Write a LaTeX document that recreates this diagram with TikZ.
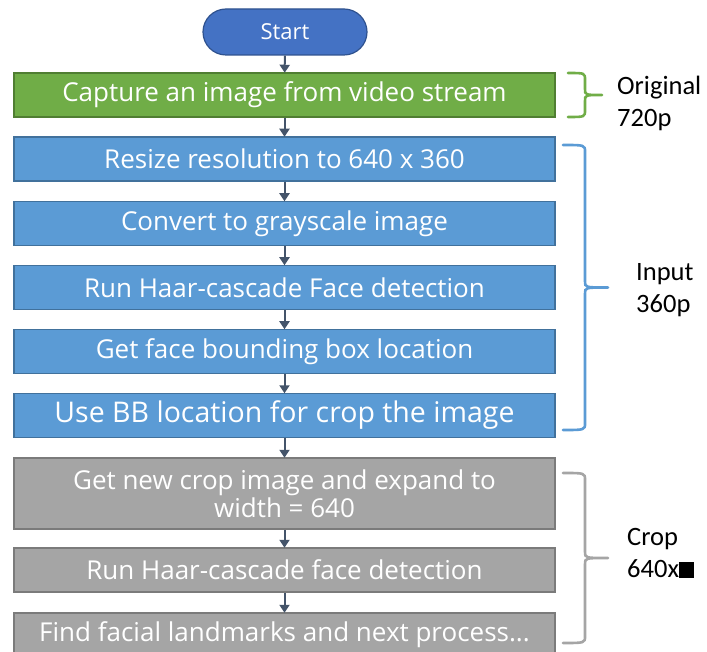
\documentclass[tikz,border=0pt]{standalone}
\usepackage{fontspec}
\setmainfont{Carlito}
\newfontfamily\boxfont{Open Sans}
\usetikzlibrary{arrows.meta}
\definecolor{startfill}{HTML}{4472C4}
\definecolor{startline}{HTML}{2F528F}
\definecolor{greenfill}{HTML}{70AD47}
\definecolor{greenline}{HTML}{507E32}
\definecolor{bluefill}{HTML}{5B9BD5}
\definecolor{blueline}{HTML}{41719C}
\definecolor{grayfill}{HTML}{A5A5A5}
\definecolor{grayline}{HTML}{7B7B7B}
\definecolor{arrowcol}{HTML}{44546A}
\tikzset{
  stepbox/.style={rectangle, line width=1.5pt, minimum width=541pt,
    minimum height=44pt, inner sep=0pt, text=white, align=center,
    font=\boxfont\fontsize{26}{28}\selectfont},
  greenbox/.style={stepbox, fill=greenfill, draw=greenline},
  bluebox/.style={stepbox, fill=bluefill, draw=blueline},
  graybox/.style={stepbox, fill=grayfill, draw=grayline},
  startbox/.style={rectangle, rounded corners=23pt, minimum width=164pt,
    minimum height=46pt, fill=startfill, draw=startline, line width=1.2pt,
    text=white, font=\boxfont\fontsize{22}{24}\selectfont},
  flow/.style={draw=arrowcol, line width=2pt,
    -{Triangle[length=8pt,width=10pt]}, shorten >=-0.5pt},
  brace/.style={line width=2.6pt, line cap=round},
  sidelabel/.style={anchor=west, align=left, inner sep=0pt,
    font=\fontsize{26.5}{32}\selectfont}
}
\newcommand{\bracepath}[6]{% colour, left x, spine x, tip x, top y, bottom y
  \draw[brace, #1] (#2,#5) .. controls (#3,#5) .. (#3,#5+7)
    -- (#3,{(#5+#6)/2-6}) .. controls (#3,{(#5+#6)/2}) .. (#4,{(#5+#6)/2})
    (#4,{(#5+#6)/2}) .. controls (#3,{(#5+#6)/2}) .. (#3,{(#5+#6)/2+6})
    -- (#3,#6-7) .. controls (#3,#6) .. (#2,#6);}
\begin{document}
\begin{tikzpicture}[x=1pt,y=-1pt]
\useasboundingbox (0,0) rectangle (707,652);

% flow steps
\node[startbox] (start) at (285,32) {Start};
\node[greenbox] (capture) at (284.5,95) {Capture an image from video stream};
\node[bluebox] (resize) at (284.5,159) {Resize resolution to 640 x 360};
\node[bluebox] (gray) at (284.5,223.5) {Convert to grayscale image};
\node[bluebox] (haar) at (284.5,287.5) {Run Haar-cascade Face detection};
\node[bluebox] (bbox) at (284.5,351.5) {Get face bounding box location};
\node[bluebox, font=\boxfont\fontsize{28.5}{30}\selectfont] (crop) at (284.5,415.5) {Use BB location for crop the image};
\node[graybox, minimum height=71pt] (expand) at (284.5,493.5) {Get new crop image and expand to\\width = 640};
\node[graybox] (haar2) at (284.5,570) {Run Haar-cascade face detection};
\node[graybox] (landmarks) at (284.5,635) {Find facial landmarks and next process...};

% connectors
\draw[flow] (start) -- (capture);
\draw[flow] (capture) -- (resize);
\draw[flow] (resize) -- (gray);
\draw[flow] (gray) -- (haar);
\draw[flow] (haar) -- (bbox);
\draw[flow] (bbox) -- (crop);
\draw[flow] (crop) -- (expand);
\draw[flow] (expand) -- (haar2);
\draw[flow] (haar2) -- (landmarks);

% braces marking the resolution of each stage
\bracepath{greenfill}{568}{585}{602}{73}{117}
\bracepath{bluefill}{563}{585}{608}{145}{430}
\bracepath{grayfill}{563}{585}{608}{473}{643}

\node[sidelabel] (lorig) at (617,103) {Original\\720p};
\node[sidelabel] (linput) at (636,290) {Input\\360p};
\node[sidelabel] (lcrop) at (627,553) {Crop\\640x\rule{0.58em}{0.58em}};
\end{tikzpicture}
\end{document}
